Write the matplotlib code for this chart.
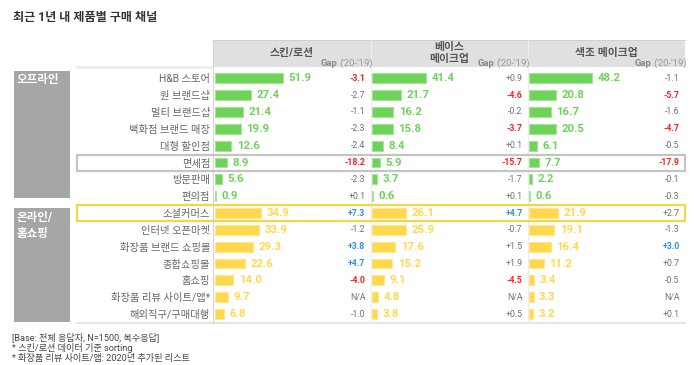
import matplotlib
matplotlib.use("Agg")
import matplotlib.pyplot as plt
from matplotlib.patches import Rectangle
from matplotlib.lines import Line2D
import matplotlib.transforms as mtransforms

plt.rcParams['font.family'] = ['Roboto', 'Noto Sans CJK KR', 'DejaVu Sans']

# data
categories = ['H&B 스토어', '원 브랜드샵', '멀티 브랜드샵', '백화점 브랜드 매장', '대형 할인점',
              '면세점', '방문판매', '편의점',
              '소셜커머스', '인터넷 오픈마켓', '화장품 브랜드 쇼핑몰', '종합쇼핑몰', '홈쇼핑',
              '화장품 리뷰 사이트/앱*', '해외직구/구매대행']
n_offline = 8
columns = ['스킨/로션', '베이스\n메이크업', '색조 메이크업']
skin = [51.9, 27.4, 21.4, 19.9, 12.6, 8.9, 5.6, 0.9, 34.9, 33.9, 29.3, 22.6, 14.0, 9.7, 6.8]
base = [41.4, 21.7, 16.2, 15.8, 8.4, 5.9, 3.7, 0.6, 26.1, 25.9, 17.6, 15.2, 9.1, 4.8, 3.8]
color_mk = [48.2, 20.8, 16.7, 20.5, 6.1, 7.7, 2.2, 0.6, 21.9, 19.1, 16.4, 11.2, 3.4, 3.3, 3.2]
skin_gap = [-3.1, -2.7, -1.1, -2.3, -2.4, -18.2, -2.3, 0.1, 7.3, -1.2, 3.8, 4.7, -4.0, None, -1.0]
base_gap = [0.9, -4.6, -0.2, -3.7, 0.1, -15.7, -1.7, 0.1, 4.7, -0.7, 1.5, 1.9, -4.5, None, 0.5]
color_gap = [-1.1, -5.7, -1.6, -4.7, -0.5, -17.9, -0.1, -0.3, 2.7, -1.3, 3.0, 0.7, -0.5, None, 0.1]
values = [skin, base, color_mk]
gaps = [skin_gap, base_gap, color_gap]

W, H = 700, 365
fig = plt.figure(figsize=(7, 3.65), dpi=100)

def fx(px):
    return px / W

def fy(py):
    return 1 - py / H

GREEN, GREEN_E = '#6fd25a', '#a3e594'
YELLOW, YELLOW_E = '#ffd84d', '#ffe68c'

col_left = [213, 371, 528]
col_right = [371, 528, 685]
top, bottom = 67, 323
row0, step = 78.3, 16.84

# header band
fig.patches.append(Rectangle((fx(213), fy(67)), fx(685 - 213), fy(40) - fy(67),
                             transform=fig.transFigure, facecolor='#e0e0e0',
                             edgecolor='none', zorder=0))
fig.lines.append(Line2D([fx(213), fx(685)], [fy(40), fy(40)], transform=fig.transFigure,
                        color='#d0d0d0', lw=0.8))

# grid lines
fig.lines.append(Line2D([fx(77), fx(213)], [fy(66.5), fy(66.5)], transform=fig.transFigure,
                        color='#eeeeee', lw=2))
fig.lines.append(Line2D([fx(77), fx(685)], [fy(323), fy(323)], transform=fig.transFigure,
                        color='#e0e0e0', lw=1.2))
for xp in [213, 371, 528]:
    fig.lines.append(Line2D([fx(xp), fx(xp)], [fy(40), fy(323)], transform=fig.transFigure,
                            color='#d6d6d6' if xp == 213 else '#ececec', lw=0.8))

gap_heads = []
for c in range(3):
    ax = fig.add_axes([fx(col_left[c]), fy(bottom), fx(col_right[c] - col_left[c]),
                       fy(top) - fy(bottom)])
    ax.patch.set_alpha(0)
    units = (col_right[c] - col_left[c]) / 1.31
    x0 = -1.5 if c == 0 else -0.9
    ax.set_xlim(x0, x0 + units)
    ax.set_ylim((bottom - row0) / step, (top - row0) / step)
    for s in ax.spines.values():
        s.set_visible(False)
    ax.set_xticks([])
    rows = list(range(len(categories)))
    cols = [GREEN if i < n_offline else YELLOW for i in rows]
    edges = [GREEN_E if i < n_offline else YELLOW_E for i in rows]
    ax.barh(rows, values[c], height=0.58, color=cols, edgecolor=edges, linewidth=0.8, zorder=3)
    for i, v in enumerate(values[c]):
        ax.text(v + 4.2, i, f'{v:.1f}', va='center', ha='left', fontsize=8.2,
                fontweight='bold', color=cols[i], zorder=4)
    trans = mtransforms.blended_transform_factory(ax.transAxes, ax.transData)
    for i, g in enumerate(gaps[c]):
        if g is None:
            txt, gc, gw = 'N/A', '#777777', 'normal'
        else:
            txt = f'{g:+.1f}'
            if g <= -3:
                gc, gw = '#ff1f1f', 'bold'
            elif g >= 3:
                gc, gw = '#2f8ff0', 'bold'
            else:
                gc, gw = '#707070', 'normal'
        ax.text(0.965, i, txt, transform=trans, ha='right', va='center',
                fontsize=6.3, color=gc, fontweight=gw)
    if c == 0:
        ax.set_yticks(rows)
        ax.set_yticklabels(categories, fontsize=7.4, color='#666666')
        ax.tick_params(axis='y', length=0, pad=2)
    else:
        ax.set_yticks([])

    # column header
    cx = (col_left[c] + col_right[c]) / 2
    fig.text(fx(cx), fy(53), columns[c], ha='center', va='center', fontsize=7.8,
             fontweight='bold', color='#555555', linespacing=1.15)
    t = fig.text(fx(col_right[c] + 2), fy(63), "('20-'19)", ha='right', va='center',
                 fontsize=6.8, color='#9a9a9a')
    gap_heads.append(t)

# place the bold "Gap" word left of each "('20-'19)"
fig.canvas.draw()
renderer = fig.canvas.get_renderer()
for t in gap_heads:
    bb = t.get_window_extent(renderer)
    fig.text(fx(bb.x0 - 2), fy(63), 'Gap', ha='right', va='center', fontsize=6.8,
             fontweight='bold', color='#8a8a8a')

# group boxes
fig.patches.append(Rectangle((fx(14), fy(198)), fx(56), fy(70.7) - fy(198),
                             transform=fig.transFigure, facecolor='#a6a6a6', edgecolor='none'))
fig.patches.append(Rectangle((fx(14), fy(322)), fx(56), fy(207.7) - fy(322),
                             transform=fig.transFigure, facecolor='#a6a6a6', edgecolor='none'))
fig.text(fx(17), fy(73), '오프라인', ha='left', va='top', fontsize=8.3,
         fontweight='bold', color='white')
fig.text(fx(17), fy(211), '온라인/\n홈쇼핑', ha='left', va='top', fontsize=8.3,
         fontweight='bold', color='white', linespacing=1.3)

# highlight boxes
def row_px(i):
    return row0 + step * i

for i, ec in [(5, '#c4c4c4'), (8, '#f7d54a')]:
    yc = row_px(i)
    fig.patches.append(Rectangle((fx(77), fy(yc + 8)), fx(685 - 77), fy(yc - 8) - fy(yc + 8),
                                 transform=fig.transFigure, facecolor='none',
                                 edgecolor=ec, lw=1.6, zorder=5))

# title and notes
fig.text(fx(13), fy(17), '최근 1년 내 제품별 구매 채널', ha='left', va='center',
         fontsize=8.7, fontweight='bold', color='#333333')
notes = ['[Base: 전체 응답자, N=1500, 복수응답]', '* 스킨/로션 데이터 기준 sorting',
         '* 화장품 리뷰 사이트/앱: 2020년 추가된 리스트']
for k, s in enumerate(notes):
    fig.text(fx(12), fy(337 + 11 * k), s, ha='left', va='center', fontsize=6.6, color='#444444')

fig.savefig('out.png', dpi=100)
